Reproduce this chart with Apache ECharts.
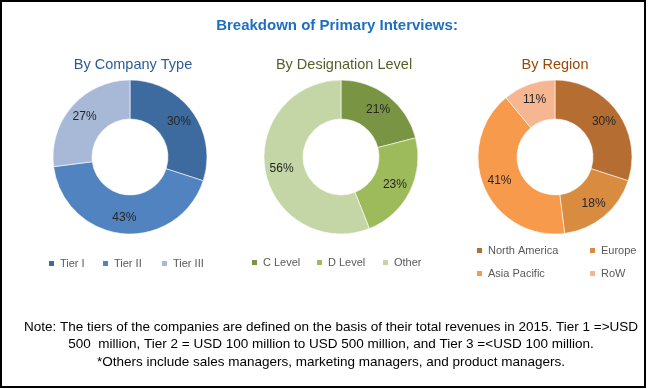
<!DOCTYPE html>
<html>
<head>
<meta charset="utf-8">
<script src="https://cdn.jsdelivr.net/npm/echarts@6/dist/echarts.min.js"></script>
<style>
html,body{margin:0;padding:0;background:#fff;}
#c{width:648px;height:389px;}
</style>
</head>
<body>
<div id="c"></div>
<script>
const mainTitle = 'Breakdown of Primary Interviews:';
const companyTitle = 'By Company Type';
const companyCats = ['Tier I', 'Tier II', 'Tier III'];
const companyVals = [30, 43, 27];
const designationTitle = 'By Designation Level';
const designationCats = ['C Level', 'D Level', 'Other'];
const designationVals = [21, 23, 56];
const regionTitle = 'By Region';
const regionCats = ['North America', 'Europe', 'Asia Pacific', 'RoW'];
const regionVals = [30, 18, 41, 11];
const noteLines = [
  'Note: The tiers of the companies are defined on the basis of their total revenues in 2015. Tier 1 =>USD',
  '500  million, Tier 2 = USD 100 million to USD 500 million, and Tier 3 =<USD 100 million.',
  '*Others include sales managers, marketing managers, and product managers.'
];

const FONT = '"Liberation Sans", Arial, sans-serif';
const companyColors = ['#3D6A9F', '#5083C0', '#A8B9D8'];
const designationColors = ['#799544', '#9EBB5C', '#C4D6A6'];
const regionColors = ['#B66D31', '#D98B40', '#F79A4C', '#F6B691'];

const chart = echarts.init(document.getElementById('c'), null, {renderer: 'canvas'});

function pieSeries(name, cats, vals, colors, cx) {
  return {
    type: 'pie', name: name,
    center: [cx, 157], radius: [38, 77],
    startAngle: 90, clockwise: true,
    avoidLabelOverlap: false,
    animation: false,
    itemStyle: {borderColor: '#fff', borderWidth: 0.6},
    label: {show: true, position: 'inside', formatter: '{c}%', color: '#262626', fontSize: 12, fontFamily: FONT},
    labelLine: {show: false},
    emphasis: {disabled: true},
    data: cats.map((c, i) => ({name: c, value: vals[i], itemStyle: {color: colors[i]}}))
  };
}

function legendItem(name, left, top) {
  return {
    data: [name], left: left, top: top, orient: 'horizontal',
    icon: 'rect', itemWidth: 7, itemHeight: 7, itemGap: 0,
    padding: 0, selectedMode: false,
    textStyle: {color: '#595959', fontSize: 11, fontFamily: FONT}
  };
}

const legends = [
  legendItem('Tier I', 47, 258), legendItem('Tier II', 101, 258), legendItem('Tier III', 160, 258),
  legendItem('C Level', 250, 257), legendItem('D Level', 315, 257), legendItem('Other', 381, 257),
  legendItem('North America', 475, 245), legendItem('Europe', 588, 245),
  legendItem('Asia Pacific', 475, 268), legendItem('RoW', 588, 268)
];

chart.setOption({
  backgroundColor: '#fff',
  animation: false,
  title: [
    {text: mainTitle, left: 332, top: 13, textAlign: 'center', textStyle: {color: '#1F6FC0', fontSize: 15, fontWeight: 'bold', fontFamily: FONT}},
    {text: companyTitle, left: 128, top: 52, textAlign: 'center', textStyle: {color: '#2B5C96', fontSize: 14.5, fontWeight: 'normal', fontFamily: FONT}},
    {text: designationTitle, left: 339, top: 52, textAlign: 'center', textStyle: {color: '#4F6228', fontSize: 14.5, fontWeight: 'normal', fontFamily: FONT}},
    {text: regionTitle, left: 550, top: 52, textAlign: 'center', textStyle: {color: '#984807', fontSize: 14.5, fontWeight: 'normal', fontFamily: FONT}}
  ],
  legend: legends,
  series: [
    pieSeries('company', companyCats, companyVals, companyColors, 130),
    pieSeries('designation', designationCats, designationVals, designationColors, 341),
    pieSeries('region', regionCats, regionVals, regionColors, 555)
  ],
  graphic: [
    {type: 'rect', shape: {x: 1, y: 1, width: 644, height: 386}, style: {fill: 'none', stroke: '#000', lineWidth: 2}, silent: true, z: 100},
    {type: 'text', x: 331, y: 327, style: {text: noteLines[0], fill: '#000', font: '13.5px ' + FONT, textAlign: 'center', textVerticalAlign: 'middle'}},
    {type: 'text', x: 331, y: 344.5, style: {text: noteLines[1], fill: '#000', font: '13.5px ' + FONT, textAlign: 'center', textVerticalAlign: 'middle'}},
    {type: 'text', x: 331, y: 362, style: {text: noteLines[2], fill: '#000', font: '13.5px ' + FONT, textAlign: 'center', textVerticalAlign: 'middle'}}
  ]
});
</script>
</body>
</html>
